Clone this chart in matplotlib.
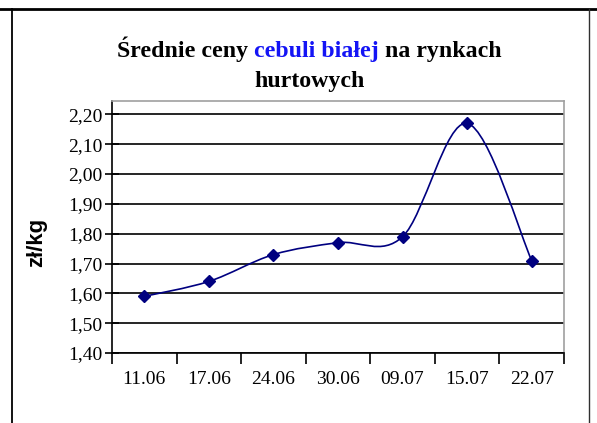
import matplotlib.pyplot as plt
from matplotlib.path import Path
from matplotlib.patches import PathPatch
from matplotlib.lines import Line2D

dates = ['11.06', '17.06', '24.06', '30.06', '09.07', '15.07', '22.07']
prices = [1.59, 1.64, 1.73, 1.77, 1.79, 2.17, 1.71]
y_ticks = [1.40, 1.50, 1.60, 1.70, 1.80, 1.90, 2.00, 2.10, 2.20]
y_labels = ['1,40', '1,50', '1,60', '1,70', '1,80', '1,90', '2,00', '2,10', '2,20']

navy = '#000080'
serif = 'Liberation Serif'

fig = plt.figure(figsize=(5.97, 4.23), dpi=100)
ax = fig.add_axes([112 / 597, 1 - 353 / 423, 452 / 597, 252 / 423])

# smoothed line like excel (catmull-rom bezier through the points)
xs = list(range(len(prices)))
pts = list(zip(xs, prices))
verts = [pts[0]]
codes = [Path.MOVETO]
for i in range(len(pts) - 1):
    p0 = pts[i - 1] if i > 0 else pts[i]
    p1 = pts[i]
    p2 = pts[i + 1]
    p3 = pts[i + 2] if i + 2 < len(pts) else pts[i + 1]
    c1 = (p1[0] + (p2[0] - p0[0]) / 6, p1[1] + (p2[1] - p0[1]) / 6)
    c2 = (p2[0] - (p3[0] - p1[0]) / 6, p2[1] - (p3[1] - p1[1]) / 6)
    verts += [c1, c2, p2]
    codes += [Path.CURVE4] * 3
ax.add_patch(PathPatch(Path(verts, codes), fill=False, edgecolor=navy, lw=1.2, zorder=3))
ax.plot(xs, prices, ls='none', marker='D', ms=5.8, color=navy, mec=navy, zorder=4)

ax.set_xlim(-0.5, len(dates) - 0.5)
ax.set_ylim(1.40, 2.245)
ax.set_yticks(y_ticks)
ax.set_yticklabels(y_labels, fontfamily=serif, fontsize=14)
ax.tick_params(axis='y', direction='inout', length=10, width=1.2, pad=2)
ax.set_xticks([i - 0.5 for i in range(len(dates) + 1)])
ax.set_xticklabels([])
ax.set_xticks(xs, minor=True)
ax.set_xticklabels(dates, minor=True, fontfamily=serif, fontsize=14)
ax.tick_params(axis='x', which='major', direction='out', length=8, width=1.2)
ax.tick_params(axis='x', which='minor', length=0, pad=13)
ax.grid(axis='y', color='black', lw=1.2)
ax.set_axisbelow(True)
for s in ['left', 'bottom']:
    ax.spines[s].set_linewidth(1.2)
for s in ['top', 'right']:
    ax.spines[s].set_color('#a0a0a0')
    ax.spines[s].set_linewidth(1.2)

fig.text(37 / 597, 1 - 242 / 423, 'zł/kg', rotation=90, ha='center', va='center',
         fontfamily='Liberation Sans', fontweight='bold', fontsize=16)

# title with coloured middle part
parts = [('Średnie ceny ', 'black'), ('cebuli białej', '#1414f5'), (' na rynkach', 'black')]
r = fig.canvas.get_renderer()
tsize = 17.2
objs = []
total = 0
for txt, col in parts:
    t = fig.text(0, 1 - 57 / 423, txt, color=col, fontfamily=serif, fontweight='bold',
                 fontsize=tsize, va='baseline', ha='left')
    w = t.get_window_extent(r).width
    objs.append((t, w))
    total += w
x0 = 309.5 - total / 2
for t, w in objs:
    t.set_x(x0 / 597)
    x0 += w
fig.text(310 / 597, 1 - 87 / 423, 'hurtowych', fontfamily=serif, fontweight='bold',
         fontsize=tsize, va='baseline', ha='center')

# outer frame
fig.add_artist(Line2D([0, 1], [1 - 9 / 423] * 2, color='black', lw=2, transform=fig.transFigure))
fig.add_artist(Line2D([11.7 / 597] * 2, [0, 1 - 9 / 423], color='black', lw=1.3, transform=fig.transFigure))
fig.add_artist(Line2D([588.7 / 597] * 2, [0, 1 - 9 / 423], color='#303030', lw=1, transform=fig.transFigure))

fig.savefig('out.png', dpi=100)
